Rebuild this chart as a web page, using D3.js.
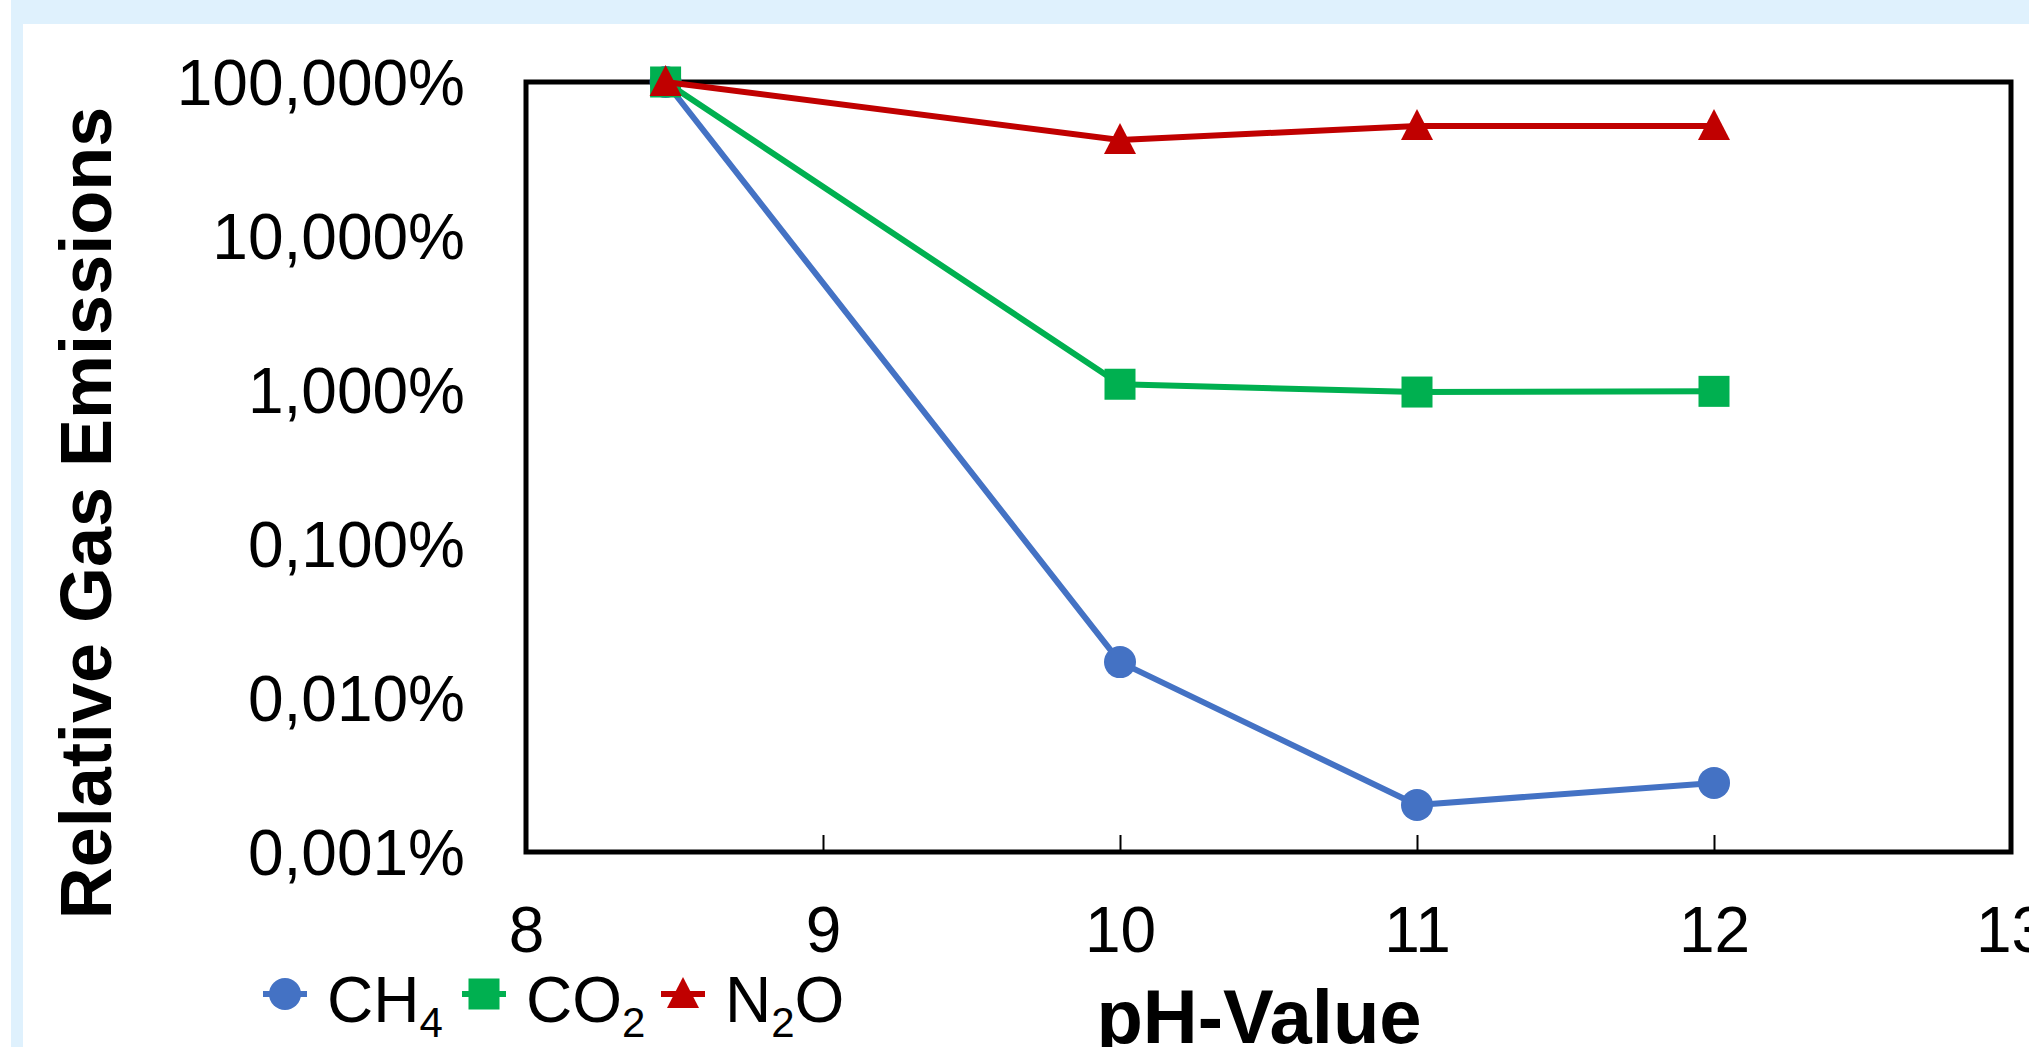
<!DOCTYPE html>
<html>
<head>
<meta charset="utf-8">
<script src="https://cdn.jsdelivr.net/npm/d3@7"></script>
<style>
  html, body { margin: 0; padding: 0; background: #ffffff; overflow: hidden; }
  svg { display: block; font-family: Arial, "Liberation Sans", sans-serif; }
</style>
</head>
<body>
<div id="chart"></div>
<script>
// data
var phValues = [8.47, 10, 11, 12];
var ch4Values = [100, 0.0171, 0.00202, 0.00281];
var co2Values = [100, 1.09, 0.97, 0.98];
var n2oValues = [100, 42, 51.8, 51.8];
var seriesNames = ["CH4", "CO2", "N2O"];
var xTicks = [8, 9, 10, 11, 12, 13];
var yTicks = [100, 10, 1, 0.1, 0.01, 0.001];

var width = 2029, height = 1047;
var margin = { top: 82, right: 18, bottom: 195, left: 526 };
var plotW = width - margin.left - margin.right,
    plotH = height - margin.top - margin.bottom;

var colors = { CH4: "#4472C4", CO2: "#00B050", N2O: "#C00000" };
var shapes = { CH4: "circle", CO2: "square", N2O: "triangle" };

var svg = d3.select("#chart")
    .append("svg")
    .attr("width", width)
    .attr("height", height);

// light blue frame around the figure
svg.append("rect").attr("x", 11).attr("y", 0).attr("width", width - 11).attr("height", 24).attr("fill", "#dff1fd");
svg.append("rect").attr("x", 11).attr("y", 0).attr("width", 12).attr("height", height).attr("fill", "#dff1fd");

var g = svg.append("g")
    .attr("transform", "translate(" + margin.left + "," + margin.top + ")");

var x = d3.scaleLinear().domain([8, 13]).range([0, plotW]);
var y = d3.scaleLog().domain([0.001, 100]).range([plotH, 0]);

var de = d3.formatLocale({ decimal: ",", thousands: ".", grouping: [3], currency: ["", " €"] });
var fmt = de.format(".3f");

// x axis, ticks pointing inwards
var xAxis = g.append("g")
    .attr("transform", "translate(0," + plotH + ")")
    .call(d3.axisBottom(x).tickValues(xTicks).tickSize(-17).tickPadding(55).tickFormat(d3.format("d")));
xAxis.select(".domain").remove();
xAxis.selectAll(".tick line").attr("stroke", "#000").attr("stroke-width", 2)
    .filter(function (d) { return d === 8 || d === 13; }).remove();
xAxis.selectAll("text").attr("font-size", 64).attr("fill", "#000").attr("font-family", null);

// y axis
var yAxis = g.append("g")
    .call(d3.axisLeft(y).tickValues(yTicks).tickSize(0).tickPadding(61)
        .tickFormat(function (d) { return fmt(d) + "%"; }));
yAxis.select(".domain").remove();
yAxis.selectAll("text").attr("font-size", 64).attr("fill", "#000").attr("font-family", null)
    .attr("dy", "0.35em");

// plot frame
g.append("rect")
    .attr("x", 0).attr("y", 0)
    .attr("width", plotW).attr("height", plotH)
    .attr("fill", "none").attr("stroke", "#000").attr("stroke-width", 5);

// axis titles
svg.append("text")
    .attr("x", 1259).attr("y", 1043)
    .attr("text-anchor", "middle")
    .attr("font-size", 76).attr("font-weight", "bold")
    .text("pH-Value");

svg.append("text")
    .attr("transform", "translate(111,513) rotate(-90)")
    .attr("text-anchor", "middle")
    .attr("font-size", 72).attr("font-weight", "bold")
    .text("Relative Gas Emissions");

function marker(sel, shape, color) {
  if (shape === "circle") {
    sel.append("circle").attr("r", 16).attr("fill", color);
  } else if (shape === "square") {
    sel.append("rect").attr("x", -15.5).attr("y", -15.5).attr("width", 31).attr("height", 31).attr("fill", color);
  } else {
    sel.append("path").attr("d", "M0,-17L16,14L-16,14Z").attr("fill", color);
  }
}

var seriesData = [
  { name: "CH4", values: ch4Values },
  { name: "CO2", values: co2Values },
  { name: "N2O", values: n2oValues }
];

var line = d3.line()
    .x(function (d) { return x(d.ph); })
    .y(function (d) { return y(d.v); });

seriesData.forEach(function (s) {
  var pts = phValues.map(function (p, i) { return { ph: p, v: s.values[i] }; });
  g.append("path")
      .datum(pts)
      .attr("fill", "none")
      .attr("stroke", colors[s.name])
      .attr("stroke-width", 6)
      .attr("stroke-linejoin", "round")
      .attr("d", line);
  g.append("g").selectAll("g")
      .data(pts)
      .enter()
      .append("g")
      .attr("transform", function (d) { return "translate(" + x(d.ph) + "," + y(d.v) + ")"; })
      .each(function () { marker(d3.select(this), shapes[s.name], colors[s.name]); });
});

// legend
var legend = svg.append("g").attr("transform", "translate(285,994)");
var labels = { CH4: ["CH", "4", ""], CO2: ["CO", "2", ""], N2O: ["N", "2", "O"] };
seriesNames.forEach(function (name, i) {
  var item = legend.append("g").attr("transform", "translate(" + (i * 199) + ",0)");
  item.append("line").attr("x1", -22).attr("x2", 22).attr("y1", 0).attr("y2", 0)
      .attr("stroke", colors[name]).attr("stroke-width", 6);
  marker(item, shapes[name], colors[name]);
  var t = item.append("text").attr("x", 42).attr("y", 28).attr("font-size", 64);
  t.append("tspan").text(labels[name][0]);
  t.append("tspan").attr("font-size", 42).attr("dy", 15).text(labels[name][1]);
  if (labels[name][2]) t.append("tspan").attr("dy", -15).text(labels[name][2]);
});
</script>
</body>
</html>
